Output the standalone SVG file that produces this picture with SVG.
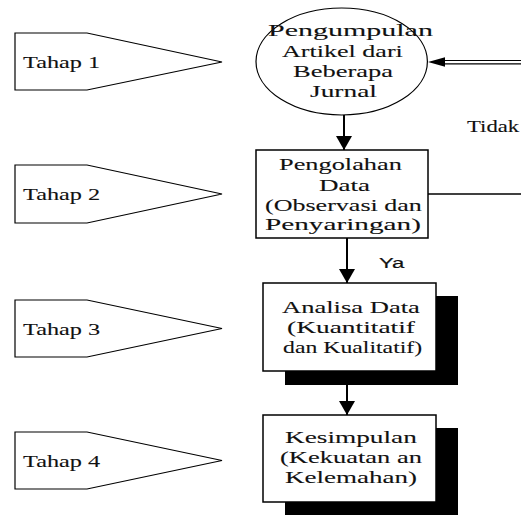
<svg xmlns="http://www.w3.org/2000/svg" width="521" height="515" viewBox="0 0 521 515">
<style>
.stage{fill:#fff;stroke:#000;stroke-width:1.2}
.box{fill:#fff;stroke:#000;stroke-width:1.5}
.shadow{fill:#000}
.t{font-family:"Liberation Serif","Times New Roman",serif;font-size:17.5px;fill:#111;stroke:#111;stroke-width:0.1}
.s{font-family:"Liberation Sans",Arial,sans-serif;font-size:15.5px;fill:#111;stroke:#111;stroke-width:0.2}
.ln{stroke:#000;stroke-width:2;fill:none}
.thin{stroke:#000;stroke-width:1.5;fill:none}
</style>
<defs>
<marker id="ah" viewBox="0 0 14 16" refX="14" refY="8" markerWidth="14" markerHeight="16" markerUnits="userSpaceOnUse" orient="auto">
<path d="M0,0 L14,8 L0,16 Z" fill="#000"/>
</marker>
</defs>
<rect width="521" height="515" fill="#fff"/>

<g id="tahap1">
<polygon class="stage" points="15,33 87,33 222,62 87,90 15,90"/>
<text class="t" transform="matrix(1.389 0 0 1 23 67.5)">Tahap 1</text>
</g>
<g id="tahap2">
<polygon class="stage" points="15,165 87,165 222,194 87,223 15,223"/>
<text class="t" transform="matrix(1.389 0 0 1 23 200)">Tahap 2</text>
</g>
<g id="tahap3">
<polygon class="stage" points="15,300 87,300 222,328.5 87,357 15,357"/>
<text class="t" transform="matrix(1.389 0 0 1 23 335)">Tahap 3</text>
</g>
<g id="tahap4">
<polygon class="stage" points="15,432 87,432 222,460.5 87,489 15,489"/>
<text class="t" transform="matrix(1.389 0 0 1 23 467)">Tahap 4</text>
</g>

<g id="connectors">
<line class="ln" x1="344" y1="115" x2="344" y2="150" marker-end="url(#ah)"/>
<line class="ln" x1="347" y1="238" x2="347" y2="283" marker-end="url(#ah)"/>
<line class="ln" x1="347" y1="371" x2="347" y2="415" marker-end="url(#ah)"/>
<line class="thin" x1="428" y1="194" x2="521" y2="194"/>
<line stroke="#000" stroke-width="1.2" x1="442" y1="60.5" x2="521" y2="60.5"/>
<line stroke="#000" stroke-width="1.2" x1="442" y1="63.8" x2="521" y2="63.8"/>
<path d="M428,62 L445,57.3 L445,66.7 Z" fill="#000"/>
<text class="t" transform="matrix(1.3 0 0 1 467 132)">Tidak</text>
<text class="s" transform="matrix(1.424 0 0 1 379 268)">Ya</text>
</g>

<g id="pengumpulan">
<ellipse cx="341.7" cy="61.5" rx="85.7" ry="53.5" fill="#fff" stroke="#000" stroke-width="1.2"/>
<text class="t" transform="matrix(1.714 0 0 1 268 36)">Pengumpulan</text>
<text class="t" transform="matrix(1.49 0 0 1 282 57)">Artikel dari</text>
<text class="t" transform="matrix(1.513 0 0 1 293 77)">Beberapa</text>
<text class="t" transform="matrix(1.566 0 0 1 310 97)">Jurnal</text>
</g>

<g id="pengolahan">
<rect class="box" x="256" y="150" width="172" height="88"/>
<text class="t" transform="matrix(1.506 0 0 1 279 170)">Pengolahan</text>
<text class="t" transform="matrix(1.545 0 0 1 319 190.5)">Data</text>
<text class="t" transform="matrix(1.488 0 0 1 265 210.5)">(Observasi dan</text>
<text class="t" transform="matrix(1.672 0 0 1 265 229.5)">Penyaringan)</text>
</g>

<g id="analisa">
<rect class="shadow" x="285" y="296" width="173" height="89"/>
<rect class="box" x="263" y="283" width="173" height="88"/>
<text class="t" transform="matrix(1.518 0 0 1 282 313)">Analisa Data</text>
<text class="t" transform="matrix(1.567 0 0 1 287 333)">(Kuantitatif</text>
<text class="t" transform="matrix(1.358 0 0 1 283 353)">dan Kualitatif)</text>
</g>

<g id="kesimpulan">
<rect class="shadow" x="285" y="428" width="173" height="90"/>
<rect class="box" x="263" y="415" width="173" height="87"/>
<text class="t" transform="matrix(1.56 0 0 1 285 443)">Kesimpulan</text>
<text class="t" transform="matrix(1.514 0 0 1 280 463)">(Kekuatan an</text>
<text class="t" transform="matrix(1.544 0 0 1 285 483)">Kelemahan)</text>
</g>
</svg>
